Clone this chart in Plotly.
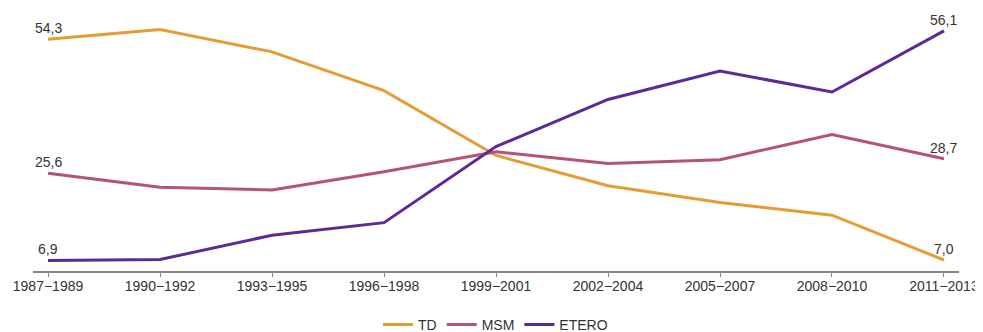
import plotly.graph_objects as go

periods = ["1987−1989", "1990−1992", "1993−1995", "1996−1998", "1999−2001",
           "2002−2004", "2005−2007", "2008−2010", "2011−2013"]
td = [54.3, 56.4, 51.6, 43.3, 29.4, 22.9, 19.3, 16.6, 7.0]
msm = [25.6, 22.6, 22.0, 25.9, 30.2, 27.7, 28.5, 33.9, 28.7]
etero = [6.9, 7.1, 12.3, 15.0, 31.3, 41.4, 47.5, 43.0, 56.1]

series = [("TD", td, "#E69C34"), ("MSM", msm, "#B4527B"), ("ETERO", etero, "#5E2896")]

fig = go.Figure()
xi = list(range(len(periods)))
for name, vals, col in series:
    fig.add_trace(go.Scatter(x=xi, y=vals, mode="lines", name=name,
                             line=dict(color=col, width=3)))

def fmt(v):
    return f"{v:.1f}".replace(".", ",")

for name, vals, col in series:
    for idx in (0, len(vals) - 1):
        fig.add_annotation(x=xi[idx], y=vals[idx], text=fmt(vals[idx]),
                           showarrow=False, yshift=11, xshift=0,
                           font=dict(size=14, color="#333333"))

# page body has an 8px margin, so the figure is sized to fit the window
fig.update_layout(
    width=975, height=324,
    margin=dict(l=25, r=24, t=14, b=61, autoexpand=False),
    paper_bgcolor="white", plot_bgcolor="white",
    font=dict(family="Liberation Sans, Arial, sans-serif", size=14, color="#333333"),
    showlegend=True,
    legend=dict(orientation="h", x=0.5, xanchor="center", xref="container",
                y=0.022, yanchor="middle", yref="container",
                font=dict(size=14, color="#333333")),
    xaxis=dict(range=[-0.134, 8.134], tickmode="array", tickvals=xi, ticktext=periods,
               showgrid=False, zeroline=False, showline=True, linecolor="#888888",
               linewidth=1.5, ticks="outside", ticklen=4, tickcolor="#888888",
               ticklabelstandoff=-3,
               tickfont=dict(size=14, color="#333333")),
    yaxis=dict(range=[4.64, 58], visible=False, showgrid=False, zeroline=False),
)

fig.write_html("out.html")
